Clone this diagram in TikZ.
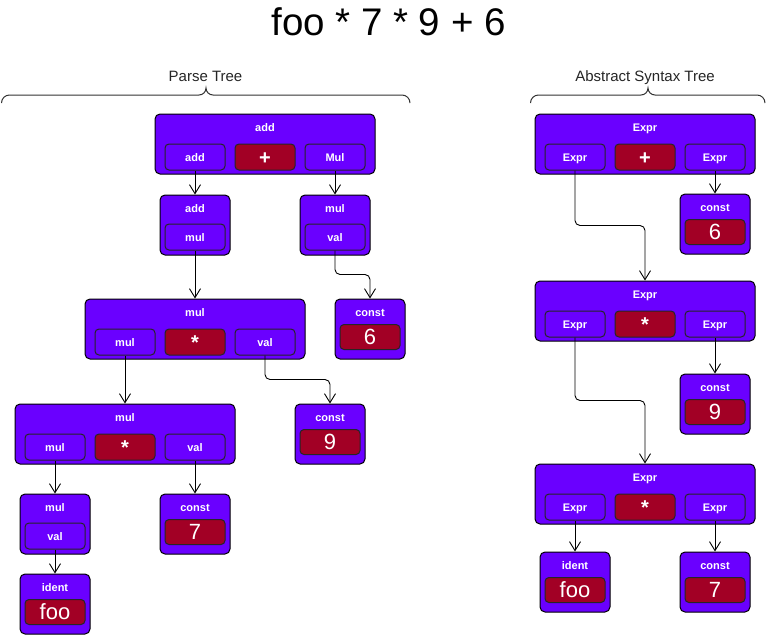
\documentclass[tikz,border=0pt]{standalone}
\usepackage{fontspec}
\setmainfont{Liberation Sans}
\usetikzlibrary{arrows.meta,calc}
\definecolor{vio}{HTML}{6A00FF}
\definecolor{crim}{HTML}{A20025}
\tikzset{
 boxouter/.style={draw=black, fill=vio, rounded corners=5pt, line width=1pt, minimum height=60pt, inner sep=0pt},
 slotbox/.style={draw=black!85, fill=vio, rounded corners=4pt, line width=1pt, minimum width=60pt, minimum height=26pt, inner sep=0pt, text=white, font=\bfseries\fontsize{11}{13}\selectfont, text height=8pt, text depth=0pt},
 opslot/.style={slotbox, fill=crim, font=\bfseries\fontsize{20}{24}\selectfont, text height=14.5pt},
 valslot/.style={slotbox, fill=crim, minimum height=25pt, font=\fontsize{22}{26}\selectfont, text height=15pt},
 lbl/.style={text=white, font=\bfseries\fontsize{11}{13}\selectfont, inner sep=0pt, anchor=base},
 conn/.style={draw=black, line width=0.9pt, -{Straight Barb[length=9pt,width=11pt]}, rounded corners=5pt},
 bracepath/.style={draw=black!80, line width=1pt},
 grouplabel/.style={font=\fontsize{15}{18}\selectfont, text=black!85, anchor=base, inner sep=0pt},
}
\newcommand\pbtri[7]{%
 \node[boxouter, minimum width=220pt] (#1) at (#2,#3) {};
 \node[lbl] (#1-t) at ($(#1.center)+(0,-12.5)$) {#4};
 \node[slotbox] (#1-l) at ($(#1.center)+(-70,13)$) {#5};
 \node[opslot] (#1-m) at ($(#1.center)+(0,13)$) {#6};
 \node[slotbox] (#1-r) at ($(#1.center)+(70,13)$) {#7};}
\newcommand\pbsmall[5]{%
 \node[boxouter, minimum width=70pt] (#1) at (#2,#3) {};
 \node[lbl] (#1-t) at ($(#1.center)+(0,-12.5)$) {#4};
 \node[slotbox] (#1-s) at ($(#1.center)+(0,12)$) {#5};}
\newcommand\pbval[5]{%
 \node[boxouter, minimum width=70pt] (#1) at (#2,#3) {};
 \node[lbl] (#1-t) at ($(#1.center)+(0,-12.5)$) {#4};
 \node[valslot] (#1-v) at ($(#1.center)+(0,8)$) {#5};}
\begin{document}
\begin{tikzpicture}[x=1pt,y=-1pt]
\useasboundingbox[fill=white] (0,0) rectangle (766,635);
% title
\node[anchor=base, inner sep=0pt, font=\fontsize{38.5}{44}\selectfont] (title) at (388.5,35) {foo * 7 * 9 + 6};
% group labels and braces
\node[grouplabel] (ptlabel) at (205.5,81.5) {Parse Tree};
\node[grouplabel] (astlabel) at (645,81) {Abstract Syntax Tree};
\draw[bracepath] (1.5,103) to[out=90,in=180] (9.5,95) -- (199,95) to[out=0,in=-90] (206,88) to[out=-90,in=180] (213,95) -- (402,95) to[out=0,in=90] (410,103);
\draw[bracepath] (530.5,103) to[out=90,in=180] (538.5,95) -- (641,95) to[out=0,in=-90] (648,88) to[out=-90,in=180] (655,95) -- (757,95) to[out=0,in=90] (765,103);
% parse tree
\pbtri{addT}{265}{144}{add}{add}{+}{Mul}
\pbsmall{addC}{195}{225}{add}{mul}
\pbsmall{mulVa}{335}{225}{mul}{val}
\pbtri{mulM}{195}{329}{mul}{mul}{*}{val}
\pbval{cSix}{370}{329}{const}{6}
\pbtri{mulL}{125}{434}{mul}{mul}{*}{val}
\pbval{cNine}{330}{434}{const}{9}
\pbsmall{mulB}{55}{524}{mul}{val}
\pbval{cSeven}{195}{524}{const}{7}
\pbval{idF}{55}{604}{ident}{foo}
% AST
\pbtri{Ea}{645}{144}{Expr}{Expr}{+}{Expr}
\pbval{aSix}{715}{224}{const}{6}
\pbtri{Eb}{645}{311}{Expr}{Expr}{*}{Expr}
\pbval{aNine}{715}{404}{const}{9}
\pbtri{Ec}{645}{494}{Expr}{Expr}{*}{Expr}
\pbval{aFoo}{575}{582}{ident}{foo}
\pbval{aSeven}{715}{582}{const}{7}
% connectors parse tree
\draw[conn] (addT-l.south) -- (addC.north);
\draw[conn] (addT-r.south) -- (mulVa.north);
\draw[conn] (addC-s.south) -- (mulM.north);
\coordinate (mA) at ($(mulVa-s.south)!0.5!(cSix.north)$);
\draw[conn] (mulVa-s.south) |- (mA) -| (cSix.north);
\draw[conn] (mulM-l.south) -- (mulL.north);
\coordinate (mB) at ($(mulM-r.south)!0.5!(cNine.north)$);
\draw[conn] (mulM-r.south) |- (mB) -| (cNine.north);
\draw[conn] (mulL-l.south) -- (mulB.north);
\draw[conn] (mulL-r.south) -- (cSeven.north);
\draw[conn] (mulB-s.south) -- (idF.north);
% connectors AST
\coordinate (mC) at ($(Ea-l.south)!0.5!(Eb.north)$);
\draw[conn] (Ea-l.south) |- (mC) -| (Eb.north);
\draw[conn] (Ea-r.south) -- (aSix.north);
\coordinate (mD) at ($(Eb-l.south)!0.5!(Ec.north)$);
\draw[conn] (Eb-l.south) |- (mD) -| (Ec.north);
\draw[conn] (Eb-r.south) -- (aNine.north);
\draw[conn] (Ec-l.south) -- (aFoo.north);
\draw[conn] (Ec-r.south) -- (aSeven.north);
\end{tikzpicture}
\end{document}
